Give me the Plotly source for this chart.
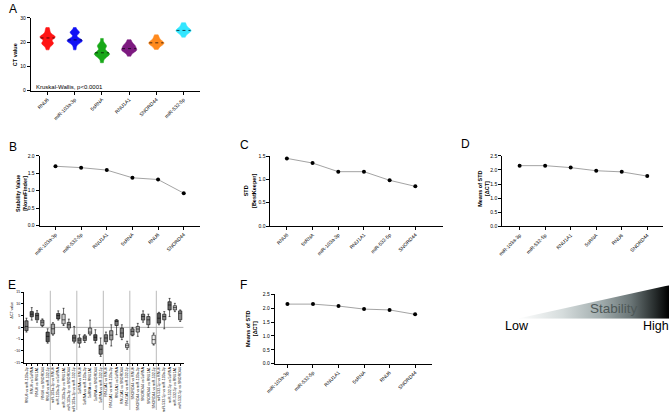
import numpy as np
import plotly.graph_objects as go

W, H = 669, 414
FONT = "Liberation Sans, Arial, sans-serif"

# ---------------- data ----------------
genes_a = ["RNU6", "miR-103a-3p", "5sRNA", "RNU1A1", "SNORD44", "miR-532-5p"]
ct_rnu6 = [16.8, 18.0, 18.8, 19.2, 19.4, 19.6, 19.8, 20.2, 21.2, 21.6, 21.8, 22.0, 22.1, 22.3, 22.5, 22.8, 23.4, 24.2, 25.0, 26.0]
ct_mir103 = [16.8, 18.2, 19.2, 19.8, 20.1, 20.3, 20.5, 20.6, 20.8, 21.0, 21.3, 21.8, 23.4, 23.8, 24.0, 24.2, 24.6, 26.0]
ct_5s = [11.5, 13.0, 13.8, 14.3, 14.6, 14.9, 15.1, 15.3, 15.6, 16.0, 16.5, 17.6, 18.2, 18.5, 18.8, 19.8, 21.5]
ct_rnu1a1 = [14.2, 15.4, 16.0, 16.4, 16.6, 16.8, 17.0, 17.3, 17.8, 18.2, 18.5, 18.7, 19.2, 20.0, 21.0]
ct_snord44 = [17.0, 18.0, 18.6, 19.0, 19.3, 19.5, 19.7, 19.9, 20.2, 20.6, 21.3, 22.0, 23.0]
ct_mir532 = [22.0, 23.2, 23.8, 24.2, 24.5, 24.7, 24.9, 25.2, 25.6, 26.2, 27.0, 28.0]
ct_values = [ct_rnu6, ct_mir103, ct_5s, ct_rnu1a1, ct_snord44, ct_mir532]

cats_b = ["miR-103a-3p", "miR-532-5p", "RNU1A1", "5sRNA", "RNU6", "SNORD44"]
vals_b = [1.70, 1.66, 1.59, 1.37, 1.32, 0.93]

cats_c = ["RNU6", "5sRNA", "miR-103a-3p", "RNU1A1", "miR-532-5p", "SNORD44"]
vals_c = [1.45, 1.35, 1.165, 1.165, 0.98, 0.85]

cats_d = ["miR-103a-3p", "miR-532-5p", "RNU1A1", "5sRNA", "RNU6", "SNORD44"]
vals_d = [2.15, 2.15, 2.08, 1.97, 1.93, 1.78]

cats_f = ["miR-103a-3p", "miR-532-5p", "RNU1A1", "5sRNA", "RNU6", "SNORD44"]
vals_f = [2.15, 2.15, 2.08, 1.97, 1.94, 1.78]

# panel E: pairwise delta CT box statistics
pairs_e = [f"{a} vs {b}" for a in genes_a for b in genes_a if a != b]
e_lower = [-2.0, 3.1, 2.2, 0.3, -6.7, -3.3, 3.1, 0.8, -1.0, -6.6, -8.4, -6.4, -3.3, -6.6, -12.3,
           -7.0, -7.9, -3.1, -5.2, -9.3, -3.6, -3.8, 2.2, 0.0, -7.5, 1.1, -0.6, 4.6, 6.7, 2.5]
e_q1 = [-1.4, 4.5, 3.2, 0.8, -6.1, -2.8, 3.6, 1.5, -0.3, -5.9, -6.7, -5.6, -2.8, -5.6, -11.4,
        -6.1, -5.3, 0.8, -4.2, -8.6, -3.3, -2.0, 3.1, 1.1, -7.0, 1.8, 3.2, 7.4, 7.4, 3.2]
e_med = [0.4, 5.6, 5.0, 2.2, -3.8, -0.6, 5.0, 3.2, 1.1, -4.5, -5.4, -4.5, -2.0, -4.2, -9.3,
         -4.5, -3.3, 2.5, -2.4, -7.8, -1.7, -0.7, 4.6, 3.2, -5.2, 3.9, 4.6, 9.5, 8.4, 6.0]
e_q3 = [2.8, 6.7, 6.0, 3.1, -2.0, 1.4, 5.9, 5.6, 2.1, -3.3, -4.5, -3.6, -0.3, -3.1, -7.5,
        -3.1, -1.4, 3.1, -0.3, -7.0, -0.6, 0.4, 5.6, 4.6, -3.3, 6.0, 5.6, 10.9, 9.2, 7.0]
e_upper = [3.9, 8.4, 7.1, 3.6, -0.6, 2.0, 7.0, 8.1, 3.5, 0.4, -3.1, -3.1, 3.1, -1.0, -4.5,
           -2.0, 1.1, 3.3, 1.1, -5.9, 0.0, 1.7, 7.0, 5.6, -2.4, 6.4, 6.7, 12.3, 10.2, 7.4]

# ---------------- styles ----------------
violin_colors = ["#ff1414", "#1010f5", "#18a818", "#7d1a80", "#ff8a1e", "#33e6ff"]
box_fills = ["#7a7a7a", "#555555", "#5c5c5c", "#9a9a9a", "#555555", "#a8a8a8", "#555555", "#cfcfcf",
             "#8a8a8a", "#6a6a6a", "#808080", "#7a7a7a", "#bdbdbd", "#555555", "#7a7a7a", "#7a7a7a",
             "#a0a0a0", "#7a7a7a", "#808080", "#dcdcdc", "#8a8a8a", "#b0b0b0", "#7a7a7a", "#8a8a8a",
             "#f2f2f2", "#555555", "#8a8a8a", "#6a6a6a", "#bdbdbd", "#8a8a8a"]


def px_x(a, b):
    return [a / W, b / W]


def px_y(top, bottom):
    return [1 - bottom / H, 1 - top / H]


def axis(domain, anchor, **kw):
    d = dict(domain=domain, anchor=anchor, showline=True, linecolor="black", linewidth=1,
             ticks="outside", ticklen=3, tickwidth=1, tickcolor="black", showgrid=False,
             zeroline=False, tickfont=dict(size=5, family=FONT, color="black"))
    d.update(kw)
    return d


fig = go.Figure()
layout = dict(width=W, height=H, margin=dict(l=0, r=0, t=0, b=0), paper_bgcolor="white",
              plot_bgcolor="white", showlegend=False, font=dict(family=FONT))

# ---- Panel A: violins ----
for i, (g, v) in enumerate(zip(genes_a, ct_values)):
    fig.add_trace(go.Violin(x=[i] * len(v), y=v, xaxis="x", yaxis="y", width=0.56,
                            fillcolor=violin_colors[i], line=dict(color=violin_colors[i], width=0.5),
                            opacity=1, points=False, spanmode="hard", bandwidth=0.75,
                            scalemode="width", name=g, hoverinfo="skip"))
    med = float(np.median(v))
    fig.add_trace(go.Scatter(x=[i - 0.26, i + 0.26], y=[med, med], mode="lines", xaxis="x", yaxis="y",
                             line=dict(color="black", width=0.7, dash="dot"), hoverinfo="skip"))
layout["xaxis"] = axis(px_x(22, 194), "y", range=[-0.62, 5.62], tickvals=list(range(6)),
                       ticktext=genes_a, tickangle=-45)
layout["yaxis"] = axis(px_y(15, 89), "x", range=[0, 30], tickvals=[0, 10, 20, 30])

# ---- line panels ----
def line_panel(n, cats, vals, xdom, ydom, xr, yr, ytick):
    xs = list(range(len(cats)))
    fig.add_trace(go.Scatter(x=xs, y=vals, mode="lines+markers", xaxis=f"x{n}", yaxis=f"y{n}",
                             line=dict(color="#8c8c8c", width=0.8),
                             marker=dict(color="black", size=4), hoverinfo="skip"))
    layout[f"xaxis{n}"] = axis(xdom, f"y{n}", range=xr, tickvals=xs, ticktext=cats, tickangle=-45)
    layout[f"yaxis{n}"] = axis(ydom, f"x{n}", range=yr, tickvals=ytick, tickformat=".1f")


line_panel(2, cats_b, vals_b, px_x(31, 194), px_y(155, 226), [-0.62, 5.65], [0, 2.0],
           [0, 0.5, 1.0, 1.5, 2.0])
line_panel(3, cats_c, vals_c, px_x(265, 440), px_y(155.3, 226.3), [-0.64, 6.08], [0, 1.5],
           [0, 0.5, 1.0, 1.5])
line_panel(4, cats_d, vals_d, px_x(500, 663), px_y(155, 226.7), [-0.68, 5.62], [0, 2.5],
           [0, 0.5, 1.0, 1.5, 2.0, 2.5])
line_panel(6, cats_f, vals_f, px_x(269.3, 429), px_y(295.7, 366), [-0.5, 5.67], [0, 2.5],
           [0, 0.5, 1.0, 1.5, 2.0, 2.5])

# ---- Panel E: boxes ----
for i in range(len(pairs_e)):
    fig.add_trace(go.Box(x=[i], q1=[e_q1[i]], median=[e_med[i]], q3=[e_q3[i]],
                         lowerfence=[e_lower[i]], upperfence=[e_upper[i]], xaxis="x5", yaxis="y5",
                         width=0.62, whiskerwidth=0.6, fillcolor=box_fills[i],
                         line=dict(color="black", width=0.6), boxpoints=False, hoverinfo="skip"))
layout["xaxis5"] = axis(px_x(15, 177), "y5", range=[-0.5, 29.65], tickvals=list(range(30)),
                        ticktext=pairs_e, tickangle=-90, ticklen=2,
                        tickfont=dict(size=3.6, family=FONT, color="black"))
layout["yaxis5"] = axis(px_y(293.3, 365), "x5", range=[-15, 15], tickvals=[-15, -10, -5, 0, 5, 10, 15],
                        ticklen=2, tickfont=dict(size=3.5, family=FONT, color="black"))

shapes = []
shapes.append(dict(type="line", xref="x5", yref="y5", x0=-0.5, x1=29.65, y0=0, y1=0,
                   line=dict(color="#a0a0a0", width=0.8), layer="below"))
ngrp = len(genes_a) - 1
for k in range(1, len(genes_a)):
    xb = k * ngrp - 0.5
    shapes.append(dict(type="line", xref="x5", yref="paper", x0=xb, x1=xb,
                       y0=1 - 413 / H, y1=1 - 292 / H, line=dict(color="#a8a8a8", width=0.8),
                       layer="below"))

# ---- Stability gradient triangle ----
fig.add_trace(go.Scatter(x=[0, 1, 1, 0], y=[0, 1, 0, 0], mode="lines", fill="toself",
                         xaxis="x7", yaxis="y7", line=dict(width=0, color="rgba(0,0,0,0)"),
                         fillgradient=dict(type="horizontal",
                                           colorscale=[[0, "#ffffff"], [0.3, "#d5dcdc"],
                                                       [0.55, "#a2adae"], [0.75, "#6a7576"],
                                                       [0.9, "#2a3030"], [1, "#000000"]]),
                         hoverinfo="skip"))
layout["xaxis7"] = dict(domain=px_x(515, 669), anchor="y7", range=[0, 1], visible=False)
layout["yaxis7"] = dict(domain=px_y(286.5, 320.5), anchor="x7", range=[0, 1], visible=False)

# ---- annotations ----
ann = []


def txt(x, y, t, size, **kw):
    d = dict(x=x / W, y=1 - y / H, xref="paper", yref="paper", text=t, showarrow=False,
             xanchor="center", yanchor="middle",
             font=dict(size=size, family=FONT, color=kw.pop("color", "black")))
    d.update(kw)
    ann.append(d)


for lab, x, y in [("A", 4, 6), ("B", 4, 146), ("C", 239, 144), ("D", 463, 143), ("E", 3, 286),
                  ("F", 238, 286)]:
    txt(x, y, lab, 12)

txt(6, 52, "<b>CT value</b>", 5.5, textangle=-90)
txt(12, 193, "<b>Stability Value<br>[NormFinder]</b>", 5.5, textangle=-90)
txt(244, 191, "<b>STD<br>[BestKeeper]</b>", 5.5, textangle=-90)
txt(481, 189, "<b>Means of STD<br>[ΔCT]</b>", 5.5, textangle=-90)
txt(245, 331, "<b>Means of STD<br>[ΔCT]</b>", 5.5, textangle=-90)
txt(4, 312, "ΔCT value", 3.5, textangle=-90)
txt(25, 85, "Kruskal-Wallis, p<0.0001", 6, xanchor="left")

txt(515, 328, "Low", 12.5)
txt(656, 328, "High", 12.5)
txt(613, 310, "Stability", 13.5, color="#4e5858")

layout["annotations"] = ann
layout["shapes"] = shapes
fig.update_layout(**layout)
fig.write_html("out.html", config={"displayModeBar": False},
               post_script="document.body.style.margin='0';document.body.style.overflow='hidden';")
